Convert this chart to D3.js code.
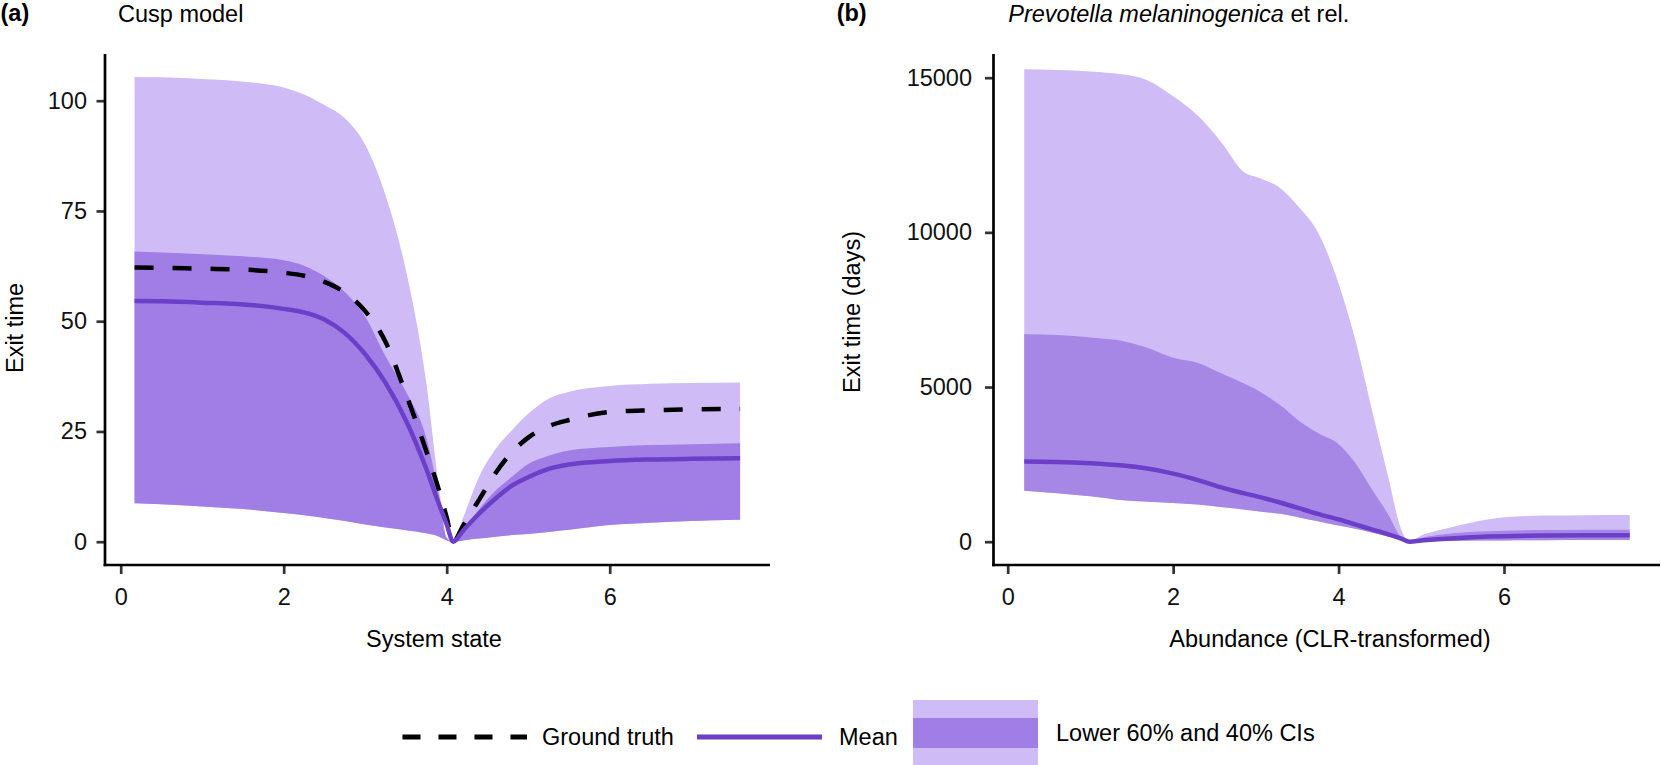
<!DOCTYPE html>
<html><head><meta charset="utf-8">
<script src="https://cdn.jsdelivr.net/npm/d3@7"></script>
<style>
html,body{margin:0;padding:0;background:#fff;}
svg{display:block;font-family:"Liberation Sans",Arial,Helvetica,sans-serif;}
</style>
</head><body>
<svg id="chart" width="1661" height="765"></svg>
<script>
// ---------- data ----------
const xTickVals = [0, 2, 4, 6];
const yTicksA = [0, 25, 50, 75, 100];
const yTicksB = [0, 5000, 10000, 15000];

// Panel (a) Cusp model
const xA       = [0.17, 0.5, 1.0, 1.5, 2.0, 2.25, 2.5, 2.75, 3.0, 3.25, 3.5, 3.75, 3.9, 4.0, 4.08, 4.2, 4.4, 4.6, 4.8, 5.0, 5.25, 5.5, 6.0, 6.5, 7.0, 7.6];
const aUpper60 = [105.4, 105.3, 104.9, 104.3, 103.0, 101.4, 99.0, 96.0, 90.0, 78.5, 61.5, 36.0, 13.0, 1.0, 0, 5.4, 14.8, 21.0, 25.3, 29.0, 32.4, 34.0, 35.3, 35.8, 36.0, 36.1];
const aUpper40 = [65.8, 65.6, 65.2, 64.7, 63.8, 62.6, 60.2, 56.6, 51.0, 42.0, 34.0, 23.5, 11.0, 0.8, 0, 2.7, 7.4, 11.6, 14.7, 17.6, 19.5, 20.7, 21.5, 21.9, 22.1, 22.3];
const aLower   = [8.7, 8.5, 8.0, 7.4, 6.5, 6.0, 5.4, 4.7, 3.9, 3.2, 2.6, 1.9, 1.2, 0.3, 0, 0.3, 0.7, 1.1, 1.5, 1.75, 2.2, 2.7, 3.8, 4.3, 4.7, 5.0];
const aMean    = [54.6, 54.5, 54.2, 53.8, 52.8, 52.0, 50.4, 47.3, 42.5, 36.0, 27.5, 16.5, 8.8, 3.9, 0, 2.5, 6.4, 9.8, 12.7, 14.6, 16.5, 17.5, 18.3, 18.65, 18.8, 18.9];
const aTruth   = [62.2, 62.1, 61.9, 61.7, 61.0, 60.3, 58.9, 56.5, 52.3, 45.3, 33.5, 20.5, 12.0, 5.5, 0, 3.6, 9.6, 15.6, 20.3, 23.6, 26.2, 27.6, 29.4, 29.8, 30.0, 30.1];

// Panel (b) Prevotella melaninogenica et rel.
const xB       = [0.2, 0.6, 1.0, 1.4, 1.65, 2.0, 2.3, 2.6, 2.85, 3.05, 3.3, 3.5, 3.75, 4.0, 4.2, 4.4, 4.6, 4.75, 4.86, 5.0, 5.2, 5.5, 5.8, 6.0, 6.5, 7.0, 7.52];
const bUpper60 = [15270, 15250, 15200, 15100, 14960, 14400, 13770, 12850, 11960, 11750, 11420, 10880, 10000, 8350, 6550, 4300, 2100, 450, 0, 200, 360, 560, 720, 790, 845, 858, 863];
const bUpper40 = [6710, 6680, 6600, 6480, 6300, 5950, 5780, 5420, 5120, 4850, 4400, 3950, 3510, 3150, 2550, 1700, 880, 160, 0, 120, 220, 300, 340, 355, 375, 385, 390];
const bLower   = [1650, 1570, 1470, 1340, 1300, 1250, 1200, 1110, 1040, 980, 900, 800, 660, 520, 420, 300, 170, 80, 0, 10, 20, 30, 38, 42, 48, 52, 55];
const bMean    = [2590, 2580, 2540, 2460, 2380, 2200, 1990, 1740, 1570, 1440, 1260, 1100, 900, 720, 560, 400, 240, 110, 0, 40, 80, 130, 165, 180, 200, 208, 212];

const legendLabels = ["Ground truth", "Mean", "Lower 60% and 40% CIs"];

// ---------- style ----------
const FONT = 23.5;
const C_LIGHT = "#CFBBF5";
const C_DARK_A = "#A07EE5";
const C_DARK_B = "#A687E5";
const C_MEAN = "#6B3FC8";

const svg = d3.select("#chart");
svg.append("rect").attr("width", 1661).attr("height", 765).attr("fill", "#fff");

function rows(xs, lo, u40, u60, mean, truth) {
  return xs.map((x, i) => ({x, lo: lo[i], u40: u40[i], u60: u60[i], mean: mean[i], truth: truth ? truth[i] : null}));
}

function panel(cfg) {
  const g = svg.append("g");
  const x = d3.scaleLinear().domain([0, 6]).range(cfg.xr);
  const y = d3.scaleLinear().domain(cfg.yd).range(cfg.yr);
  const data = cfg.data;

  const area = (key) => d3.area().x(d => x(d.x)).y0(d => y(d.lo)).y1(d => y(d[key])).curve(d3.curveMonotoneX);
  g.append("path").datum(data).attr("d", area("u60")).attr("fill", C_LIGHT);
  g.append("path").datum(data).attr("d", area("u40")).attr("fill", cfg.dark);

  const line = (key) => d3.line().x(d => x(d.x)).y(d => y(d[key])).curve(d3.curveMonotoneX);
  if (cfg.truth) {
    g.append("path").datum(data).attr("d", line("truth")).attr("fill", "none")
      .attr("stroke", "#000").attr("stroke-width", 4.5).attr("stroke-dasharray", "19,19");
  }
  g.append("path").datum(data).attr("d", line("mean")).attr("fill", "none")
    .attr("stroke", C_MEAN).attr("stroke-width", 4.5).attr("stroke-linejoin", "round");

  // axes
  const L = cfg.panel; // left, right, top, bottom
  const fmt = d => String(d);
  const ya = g.append("g").attr("transform", `translate(${L.left},0)`)
    .call(d3.axisLeft(y).tickValues(cfg.yTicks).tickFormat(fmt).tickSize(8.5).tickPadding(cfg.ypad).tickSizeOuter(0));
  const xa = g.append("g").attr("transform", `translate(0,${L.bottom})`)
    .call(d3.axisBottom(x).tickValues(xTickVals).tickFormat(fmt).tickSize(9).tickPadding(14).tickSizeOuter(0));
  [ya, xa].forEach(a => {
    a.select(".domain").remove();
    a.selectAll(".tick line").attr("stroke", "#333").attr("stroke-width", 2.7);
    a.selectAll(".tick text").attr("fill", "#111").attr("font-size", FONT)
      .attr("font-family", '"Liberation Sans",Arial,Helvetica,sans-serif');
  });
  g.append("line").attr("x1", L.left).attr("x2", L.left).attr("y1", L.top).attr("y2", L.bottom + 1.35)
    .attr("stroke", "#000").attr("stroke-width", 2.7);
  g.append("line").attr("x1", L.left - 1.35).attr("x2", L.right).attr("y1", L.bottom).attr("y2", L.bottom)
    .attr("stroke", "#000").attr("stroke-width", 2.7);

  // titles
  g.append("text").attr("x", cfg.tagX).attr("y", 21).attr("font-size", FONT).attr("font-weight", "bold").text(cfg.tag);
  const t = g.append("text").attr("x", cfg.titleX).attr("y", 21.5).attr("font-size", FONT);
  cfg.title.forEach(p => t.append("tspan").attr("font-style", p.italic ? "italic" : "normal").text(p.text));
  g.append("text").attr("x", cfg.xlabX).attr("y", 647).attr("text-anchor", "middle").attr("font-size", FONT).text(cfg.xlab);
  g.append("text").attr("transform", `translate(${cfg.ylabX},${cfg.ylabY}) rotate(-90)`)
    .attr("text-anchor", "middle").attr("font-size", FONT).text(cfg.ylab);
}

panel({
  data: rows(xA, aLower, aUpper40, aUpper60, aMean, aTruth), truth: true,
  xr: [120.7, 609.7], yd: [0, 100], yr: [541.7, 100.7], yTicks: yTicksA, ypad: 9.5,
  panel: {left: 105, right: 770, top: 54, bottom: 565}, dark: C_DARK_A,
  tag: "(a)", tagX: 0.5, title: [{text: "Cusp model"}], titleX: 118,
  xlab: "System state", xlabX: 434, ylab: "Exit time", ylabX: 23, ylabY: 328
});
panel({
  data: rows(xB, bLower, bUpper40, bUpper60, bMean, null), truth: false,
  xr: [1007.7, 1504], yd: [0, 15000], yr: [541.7, 77.7], yTicks: yTicksB, ypad: 13,
  panel: {left: 993.5, right: 1660, top: 54, bottom: 565}, dark: C_DARK_B,
  tag: "(b)", tagX: 836.7, title: [{text: "Prevotella melaninogenica", italic: true}, {text: " et rel."}], titleX: 1008.3,
  xlab: "Abundance (CLR-transformed)", xlabX: 1330, ylab: "Exit time (days)", ylabX: 859.5, ylabY: 312
});

// ---------- legend ----------
const lg = svg.append("g");
lg.append("line").attr("x1", 402.5).attr("x2", 527).attr("y1", 737).attr("y2", 737)
  .attr("stroke", "#000").attr("stroke-width", 5).attr("stroke-dasharray", "18,18");
lg.append("text").attr("x", 542).attr("y", 745).attr("font-size", FONT).text(legendLabels[0]);
lg.append("line").attr("x1", 697).attr("x2", 822).attr("y1", 737).attr("y2", 737)
  .attr("stroke", C_MEAN).attr("stroke-width", 5);
lg.append("text").attr("x", 839).attr("y", 745).attr("font-size", FONT).text(legendLabels[1]);
lg.append("rect").attr("x", 913).attr("y", 700).attr("width", 125).attr("height", 66).attr("fill", C_LIGHT);
lg.append("rect").attr("x", 913).attr("y", 718).attr("width", 125).attr("height", 30).attr("fill", C_DARK_A);
lg.append("text").attr("x", 1056).attr("y", 741).attr("font-size", FONT).text(legendLabels[2]);
</script>
</body></html>
